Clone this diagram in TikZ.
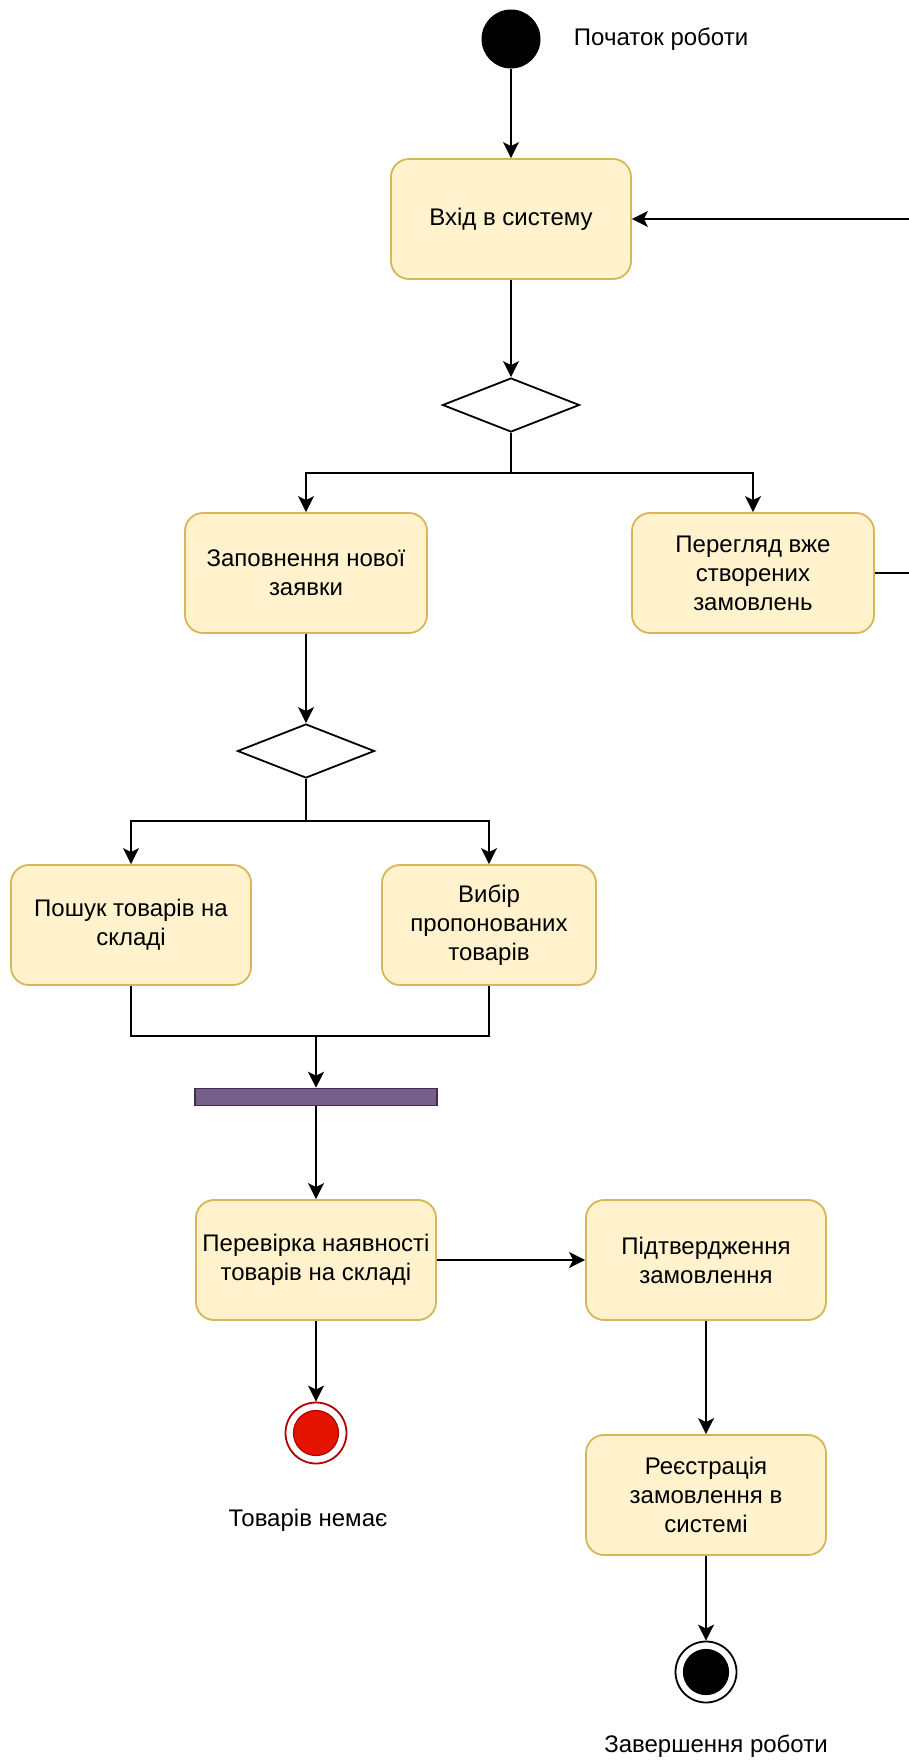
\documentclass[tikz,border=0pt]{standalone}
\usepackage{fontspec}
\setmainfont{Liberation Sans}
\usetikzlibrary{shapes.geometric,arrows.meta,positioning}
\definecolor{actfill}{HTML}{FFF2CC}
\definecolor{actline}{HTML}{D6B656}
\definecolor{barfill}{HTML}{76608A}
\definecolor{barline}{HTML}{432D57}
\definecolor{failfill}{HTML}{E51400}
\definecolor{failline}{HTML}{B20000}
\tikzset{
  act/.style={rectangle,rounded corners=18pt,draw=actline,fill=actfill,line width=1.8pt,
    minimum width=240pt,minimum height=120pt,inner sep=0pt,align=center,
    font=\fontsize{24}{29}\selectfont},
  choice/.style={diamond,draw,line width=1.8pt,minimum width=137pt,minimum height=54pt,inner sep=0pt},
  fork/.style={rectangle,draw=barline,fill=barfill,line width=1.6pt,minimum width=242pt,minimum height=17pt,inner sep=0pt},
  initial/.style={circle,fill=black,minimum size=59pt,inner sep=0pt},
  final/.style={circle,draw=#1,fill=white,line width=1.8pt,minimum size=61pt,inner sep=0pt},
  core/.style={circle,draw=#1,line width=1.2pt,minimum size=45pt,inner sep=0pt},
  lbl/.style={inner sep=0pt,font=\fontsize{24}{29}\selectfont},
  flow/.style={line width=2pt},
  >={Stealth[length=16pt,width=16pt,inset=4pt]}
}

\begin{document}
\begin{tikzpicture}[x=1pt,y=-1pt]
  \useasboundingbox (0,0) rectangle (909,1762);
  % start and login
  \node[initial] (start) at (511,39) {};
  \node[lbl,right=33pt of start] (startlbl) {Початок роботи};
  \node[act] (login) at (511,219) {Вхід в систему};
  \node[choice] (d_menu) at (511,405) {};
  \node[act,minimum width=242pt] (newreq) at (306,573) {Заповнення нової\\заявки};
  \node[act,minimum width=242pt] (orders) at (753,573) {Перегляд вже\\створених\\замовлень};
  % filling the request
  \node[choice] (d_req) at (306,751) {};
  \node[act] (search) at (131,925) {Пошук товарів на\\складі};
  \node[act,minimum width=214pt] (pick) at (489,925) {Вибір\\пропонованих\\товарів};
  \coordinate (join) at (316,1036);
  \node[fork] (bar) at (316,1097) {};
  % checking and ending
  \node[act] (check) at (316,1260) {Перевірка наявності\\товарів на складі};
  \node[act] (confirm) at (706,1260) {Підтвердження\\замовлення};
  \node[act] (register) at (706,1495) {Реєстрація\\замовлення в\\системі};
  \node[final=failline] (fail) at (316,1433) {};
  \node[core=failline,fill=failfill] at (fail) {};
  \node[lbl] (faillbl) at (308,1520) {Товарів немає};
  \node[final=black] (stop) at (706,1672) {};
  \node[core=black,fill=black] at (stop) {};
  \node[lbl] (stoplbl) at (716,1746) {Завершення роботи};

  \path[->,flow]
    (start) edge (login)
    (login) edge (d_menu)
    (bar) edge (check)
    (check) edge (confirm)
    (check) edge (fail)
    (confirm) edge (register)
    (register) edge (stop);
  \draw[->,flow] (d_menu.south) -- ++(0,40) -| (newreq.north);
  \draw[->,flow] (d_menu.south) -- ++(0,40) -| (orders.north);
  \draw[->,flow] (orders.east) -- ++(45,0) |- (login.east);
  \draw[->,flow] (newreq) -- (d_req);
  \draw[->,flow] (d_req.south) -- ++(0,42) -| (search.north);
  \draw[->,flow] (d_req.south) -- ++(0,42) -| (pick.north);
  \draw[flow] (search.south) |- (join);
  \draw[flow] (pick.south) |- (join);
  \draw[->,flow] (join) -- (bar.north);
\end{tikzpicture}
\end{document}
